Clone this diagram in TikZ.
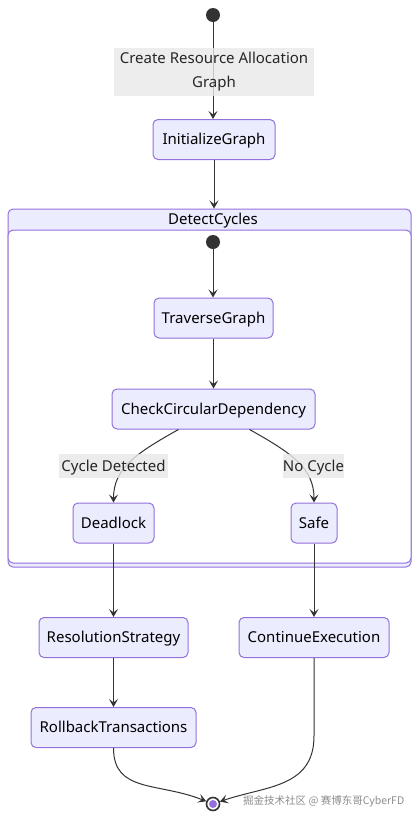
\documentclass[tikz,border=0pt]{standalone}
\usepackage{fontspec}
\setmainfont{Noto Sans}
\newfontfamily\cjkfont{Noto Sans CJK SC}
\usetikzlibrary{arrows.meta,calc}
\definecolor{nodefill}{HTML}{ECECFF}
\definecolor{nodeline}{HTML}{9370DB}
\definecolor{edgecol}{HTML}{333333}
\definecolor{lblbg}{HTML}{E8E8E8}
\begin{document}
\begin{tikzpicture}[x=1pt,y=-1pt,
  statebox/.style={draw=nodeline,fill=nodefill,rounded corners=5pt,line width=1pt,
    minimum height=40pt,inner sep=0pt,text height=10.7pt,text depth=0pt,
    font=\fontsize{15}{18}\selectfont,text=black},
  lbl/.style={fill=lblbg,fill opacity=0.8,text opacity=1,inner sep=0pt,
    font=\fontsize{15}{24}\selectfont,text=black!85,align=center},
  edgeline/.style={draw=edgecol,line width=1pt,-{Stealth[length=8pt,width=9pt,inset=3.5pt]}},
  startdot/.style={circle,fill=edgecol,minimum size=14pt,inner sep=0pt}
]
\useasboundingbox (0,0) rectangle (419,820);
% composite state
\node[draw=nodeline,fill=nodefill,rounded corners=5pt,line width=1pt,
  minimum width=403pt,minimum height=358pt,inner sep=0pt] (dc) at (209.5,388) {};
\path[draw=nodeline,fill=white,line width=1pt,rounded corners=5pt]
  (8,230) -- (411,230) -- (411,563) -- (8,563) -- cycle;
\node[font=\fontsize{15}{18}\selectfont,inner sep=0pt,text height=10.7pt,text depth=0pt] (dctitle) at (213,219.5) {DetectCycles};

% states
\node[startdot] (start) at (213,15) {};
\node[statebox,minimum width=122pt] (init) at (214,139.5) {InitializeGraph};
\node[startdot] (istart) at (213,242) {};
\node[statebox,minimum width=119pt] (trav) at (213.5,318) {TraverseGraph};
\node[statebox,minimum width=203pt] (check) at (213.5,409) {CheckCircularDependency};
\node[statebox,minimum width=81pt] (dead) at (113.5,523) {Deadlock};
\node[statebox,minimum width=46pt] (safe) at (314,523) {Safe};
\node[statebox,minimum width=149pt] (res) at (113.5,637.5) {ResolutionStrategy};
\node[statebox,minimum width=150pt] (cont) at (314,637.5) {ContinueExecution};
\node[statebox,minimum width=165pt] (roll) at (113.5,727.5) {RollbackTransactions};
\node[circle,draw=edgecol,line width=1.6pt,fill=white,minimum size=13pt,inner sep=0pt] (end) at (213,804) {};
\fill[nodeline] (end.center) circle (4pt);

% edges
\draw[edgeline] (start) -- (start |- init.north);
\draw[edgeline] (init.south) -- (init.south |- dc.north);
\draw[edgeline] (istart) -- (istart |- trav.north);
\draw[edgeline] (trav.south) -- (trav.south |- check.north);
\draw[edgeline] ($(check.south)+(-35,0)$) .. controls ($(check.south)+(-78,24)$) and ($(dead.north)+(0,-34)$) .. (dead.north);
\draw[edgeline] ($(check.south)+(36,0)$) .. controls ($(check.south)+(79,24)$) and ($(safe.north)+(0,-34)$) .. (safe.north);
\draw[edgeline] (dead.south) -- (dead.south |- res.north);
\draw[edgeline] (safe.south) -- (safe.south |- cont.north);
\draw[edgeline] (res.south) -- (res.south |- roll.north);
\draw[edgeline] (roll.south) .. controls ($(roll.south)+(0,45)$) and ($(end)+(-55,-22)$) .. (end);
\draw[edgeline] (cont.south) -- ($(cont.south)+(0,78)$) .. controls ($(cont.south)+(0,130)$) and ($(end)+(52,-18)$) .. (end);

% edge labels
\node[lbl,minimum width=200pt,minimum height=48pt] (l1) at (214,71.5) {Create Resource Allocation\\Graph};
\node[lbl,minimum width=109pt,minimum height=24pt,text height=10.7pt,text depth=0pt] (l2) at (113.5,466) {Cycle Detected};
\node[lbl,minimum width=61pt,minimum height=24pt,text height=10.7pt,text depth=0pt] (l3) at (313.5,466) {No Cycle};

% watermark
\node[anchor=west,inner sep=0pt,text=black!45,font=\cjkfont\fontsize{10.5}{12}\selectfont] (wm) at (243,801) {掘金技术社区 @ 赛博东哥CyberFD};
\end{tikzpicture}
\end{document}
